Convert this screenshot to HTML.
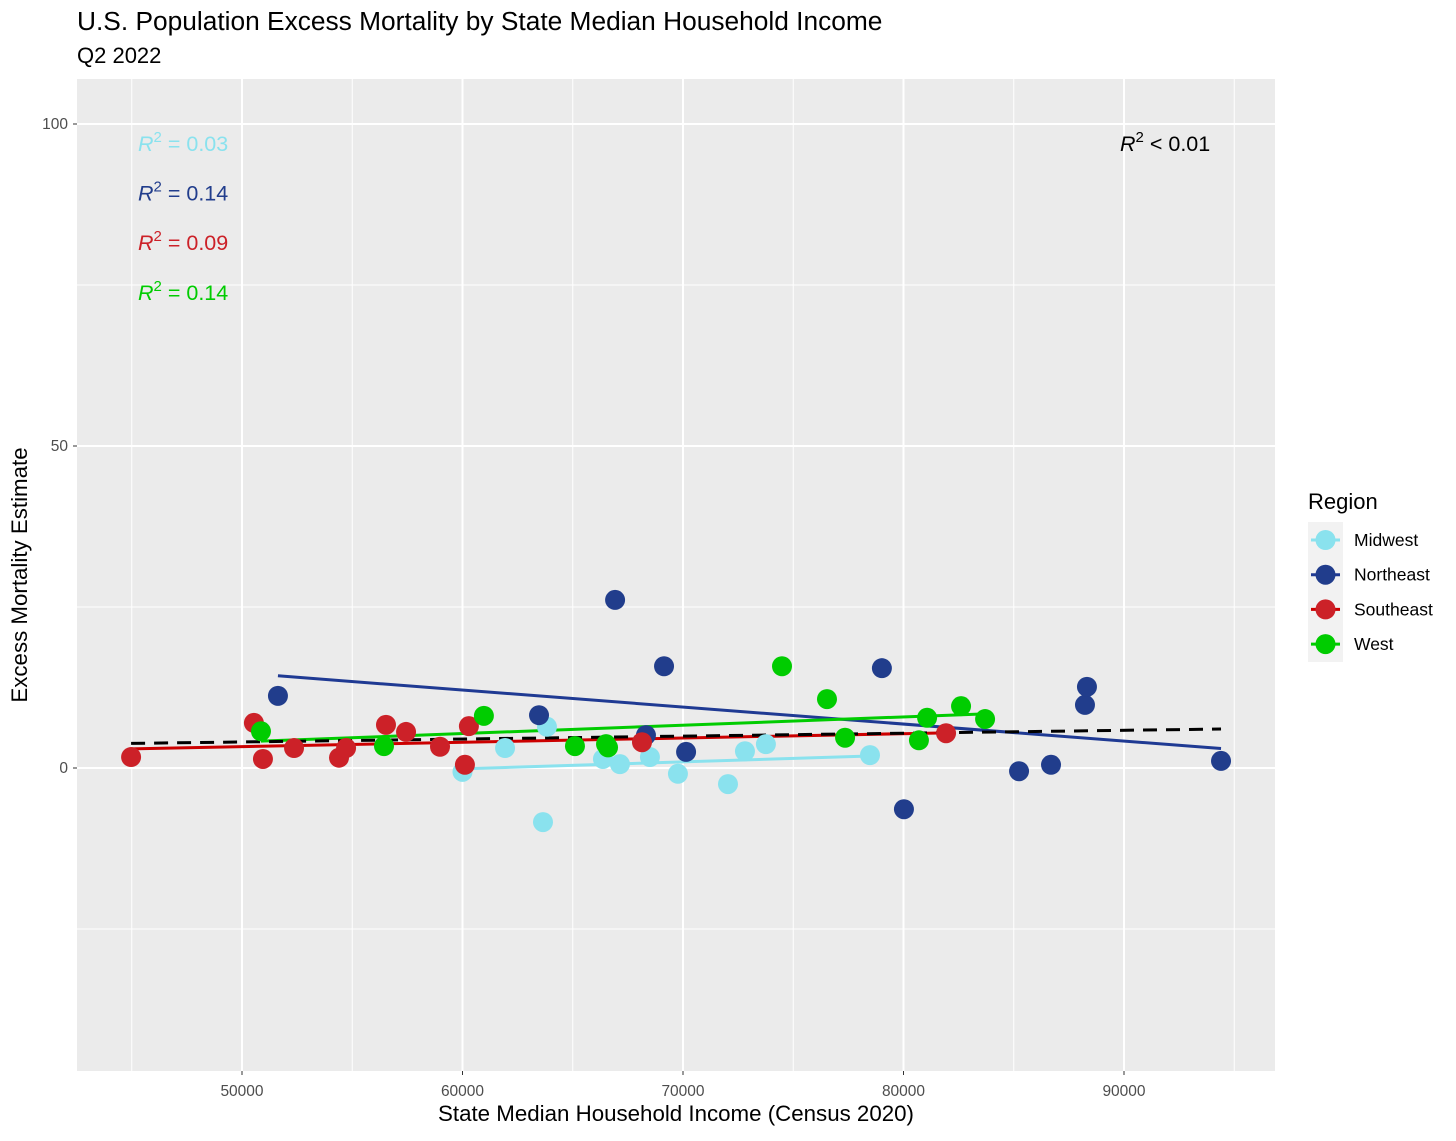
<!DOCTYPE html>
<html><head><meta charset="utf-8"><style>
body{margin:0;background:#fff;font-family:"Liberation Sans",Arial,sans-serif}
svg text{font-family:"Liberation Sans",Arial,sans-serif}
</style></head><body>
<svg id="chart" width="1456" height="1136" xmlns="http://www.w3.org/2000/svg">
<text x="77" y="30" font-size="26.3">U.S. Population Excess Mortality by State Median Household Income</text>
<text x="77" y="63" font-size="22">Q2 2022</text>
<rect x="77" y="79" width="1198" height="992" fill="#ebebeb"/>
<g id="grid"></g><g id="lines"></g><g id="pts"></g><g id="axes"></g>
<text x="676" y="1121" font-size="22.3" text-anchor="middle">State Median Household Income (Census 2020)</text>
<text transform="translate(27,575) rotate(-90)" font-size="22.3" text-anchor="middle">Excess Mortality Estimate</text>
<g id="ann"></g><g id="legend"></g>
</svg>
<script>
const regions=["Midwest","Northeast","Southeast","West"];
const colors=["#8ae2ee","#213d8c","#cc2128","#00cc00"];
const lineColors=["#8ae2ee","#1f3a93","#cc0000","#00cc00"];
const midwestX=[60000,61930,63830,63650,66370,67140,68500,69770,72040,72810,73760,78480];
const midwestY=[-0.6,3.1,6.4,-8.4,1.4,0.6,1.7,-0.9,-2.5,2.6,3.7,2.0];
const northeastX=[51630,63470,66920,68320,69140,70140,79020,80020,85240,86690,88230,88320,94400];
const northeastY=[11.2,8.2,26.1,5.1,15.8,2.5,15.5,-6.4,-0.5,0.5,9.8,12.6,1.1];
const southeastX=[44970,50540,50950,52360,54400,54720,56530,57440,58980,60110,60290,68140,81930];
const southeastY=[1.7,7.0,1.4,3.1,1.6,3.1,6.7,5.6,3.3,0.5,6.5,4.0,5.4];
const westX=[50860,56440,60970,65100,66510,66600,74490,76530,77350,80700,81070,82610,83700];
const westY=[5.7,3.4,8.1,3.4,3.7,3.2,15.8,10.7,4.7,4.3,7.8,9.6,7.6];
const r2Labels=["0.03","0.14","0.09","0.14"];
const xTicks=[50000,60000,70000,80000,90000];
const yTicks=[0,50,100];
const NS="http://www.w3.org/2000/svg";
const sx=v=>242+(v-50000)*0.02205;
const sy=v=>768-v*6.44;
function mk(tag,attrs,parent){const e=document.createElementNS(NS,tag);for(const k in attrs)e.setAttribute(k,attrs[k]);document.getElementById(parent).appendChild(e);return e;}
[45000,55000,65000,75000,85000,95000].forEach(v=>{const e=mk("line",{x1:sx(v),x2:sx(v),y1:79,y2:1071,stroke:"#fff","stroke-width":1},"grid");

});
[-25,25,75].forEach(v=>{const e=mk("line",{x1:77,x2:1275,y1:sy(v),y2:sy(v),stroke:"#fff","stroke-width":1},"grid");

});
xTicks.forEach(v=>{const e=mk("line",{x1:sx(v),x2:sx(v),y1:79,y2:1071,stroke:"#fff","stroke-width":2},"grid");


const t=mk("text",{x:sx(v),y:1096,"font-size":15.5,fill:"#4d4d4d","text-anchor":"middle"},"axes");t.textContent=v;


mk("line",{x1:sx(v),x2:sx(v),y1:1071,y2:1075,stroke:"#333"},"axes");});
yTicks.forEach(v=>{const e=mk("line",{x1:77,x2:1275,y1:sy(v),y2:sy(v),stroke:"#fff","stroke-width":2},"grid");


const t=mk("text",{x:68,y:sy(v)+5,"font-size":15.5,fill:"#4d4d4d","text-anchor":"end"},"axes");t.textContent=v;


mk("line",{x1:73,x2:77,y1:sy(v),y2:sy(v),stroke:"#333"},"axes");});
function fit(X,Y){const n=X.length,mx=X.reduce((a,b)=>a+b)/n,my=Y.reduce((a,b)=>a+b)/n;let sxy=0,sxx=0;for(let i=0;i<n;i++){sxy+=(X[i]-mx)*(Y[i]-my);sxx+=(X[i]-mx)**2;}const b=sxy/sxx;return {b,a:my-b*mx,x0:Math.min(...X),x1:Math.max(...X)};}
const Xs=[midwestX,northeastX,southeastX,westX],Ys=[midwestY,northeastY,southeastY,westY];
const allX=[].concat(...Xs),allY=[].concat(...Ys);const f0=fit(allX,allY);
const fits=Xs.map((X,i)=>fit(X,Ys[i]));
fits.forEach((f,i)=>{const e=mk("line",{x1:sx(f.x0),y1:sy(f.a+f.b*f.x0),x2:sx(f.x1),y2:sy(f.a+f.b*f.x1),stroke:lineColors[i],"stroke-width":3},"lines");

});
const dl=mk("line",{x1:sx(f0.x0),y1:sy(f0.a+f0.b*f0.x0),x2:sx(f0.x1),y2:sy(f0.a+f0.b*f0.x1),stroke:"#000","stroke-width":3,"stroke-dasharray":"14,9"},"lines");


Xs.forEach((X,i)=>X.forEach((x,j)=>{const c=mk("circle",{cx:sx(x),cy:sy(Ys[i][j]),r:10,fill:colors[i]},"pts");

}));
r2Labels.forEach((l,i)=>{const t=mk("text",{x:138,y:151+i*49.6,"font-size":21.5,fill:colors[i]},"ann");
t.innerHTML='<tspan font-style="italic">R</tspan><tspan dy="-9" font-size="15">2</tspan><tspan dy="9"> = '+l+'</tspan>';

});
const ta=mk("text",{x:1120,y:151,"font-size":21.5,fill:"#000"},"ann");
ta.innerHTML='<tspan font-style="italic">R</tspan><tspan dy="-9" font-size="15">2</tspan><tspan dy="9"> &lt; 0.01</tspan>';


const lt=mk("text",{x:1308,y:509,"font-size":22},"legend");lt.textContent="Region";


mk("rect",{x:1308,y:522,width:35,height:140,fill:"#f2f2f2"},"legend");
regions.forEach((r,i)=>{const y=540+i*34.7;
const g=mk("g",{},"legend");


mk("line",{x1:1311,x2:1340,y1:y,y2:y,stroke:lineColors[i],"stroke-width":3},"legend");
mk("circle",{cx:1325.5,cy:y,r:10,fill:colors[i]},"legend");
const t=mk("text",{x:1354,y:y+6,"font-size":17.5},"legend");t.textContent=r;});
</script>
</body></html>
